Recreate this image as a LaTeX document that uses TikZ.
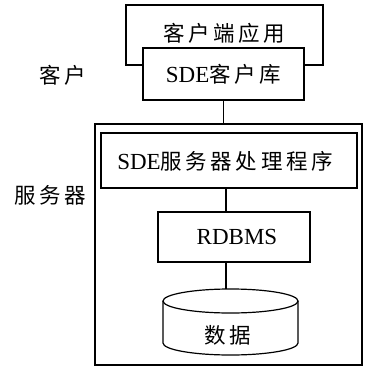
\documentclass[tikz,border=0pt]{standalone}
\usepackage{fontspec}
\setmainfont{Liberation Serif}
\newfontfamily\cjk{Noto Sans CJK SC}
\newcommand\latn[1]{{\fontsize{23bp}{25bp}\selectfont #1}}
\begin{document}
\begin{tikzpicture}[x=1bp,y=1bp,
  every node/.style={font=\fontsize{21.5bp}{25bp}\selectfont},
  box/.style={draw, line width=1.2bp, rectangle, inner sep=0pt},
  wire/.style={line width=1.2bp}]
\useasboundingbox (0,0) rectangle (368,-367);
% client
\node[box, minimum width=197bp, minimum height=60bp] (app) at (224.5,-35) {};
\node (apptext) at (224.5,-33) {\cjk 客\,户\,端\,应\,用};
\node[box, fill=white, minimum width=161bp, minimum height=52bp] (sdeclient) at (223.5,-74) {\latn{SDE}{\cjk 客\,户\,库}};
\node (clientlbl) at (63,-75) {\cjk 客\,户};
% server
\node[box, minimum width=267bp, minimum height=241bp] (server) at (228.5,-244.5) {};
\node[box, minimum width=256bp, minimum height=55bp] (sdeserver) at (229,-160.5) {};
\node (sdeservertext) at (225,-161) {\latn{SDE}{\cjk 服\,务\,器\,处\,理\,程\,序}};
\node[box, minimum width=152bp, minimum height=50bp] (rdbms) at (234,-237) {};
\node (rdbmstext) at (237,-237) {\latn{RDBMS}};
\node (serverlbl) at (50,-195) {\cjk 服\,务\,器};
% database cylinder
\coordinate (cyltop) at (226,-289);
\draw[wire] (230.5,-301) ellipse [x radius=67.5, y radius=12];
\draw[wire] (163,-301) -- (163,-343) arc[start angle=180, end angle=360, x radius=67.5, y radius=12] -- (298,-301);
\node (data) at (228,-335) {\cjk 数\,据};
% connectors
\draw[wire] (sdeclient.south) -- (sdeclient.south |- server.north);
\draw[wire] ([xshift=-3bp]sdeserver.south) -- ([xshift=-3bp]sdeserver.south |- rdbms.north);
\draw[wire] (rdbms.south -| cyltop) -- (cyltop);
\end{tikzpicture}
\end{document}
